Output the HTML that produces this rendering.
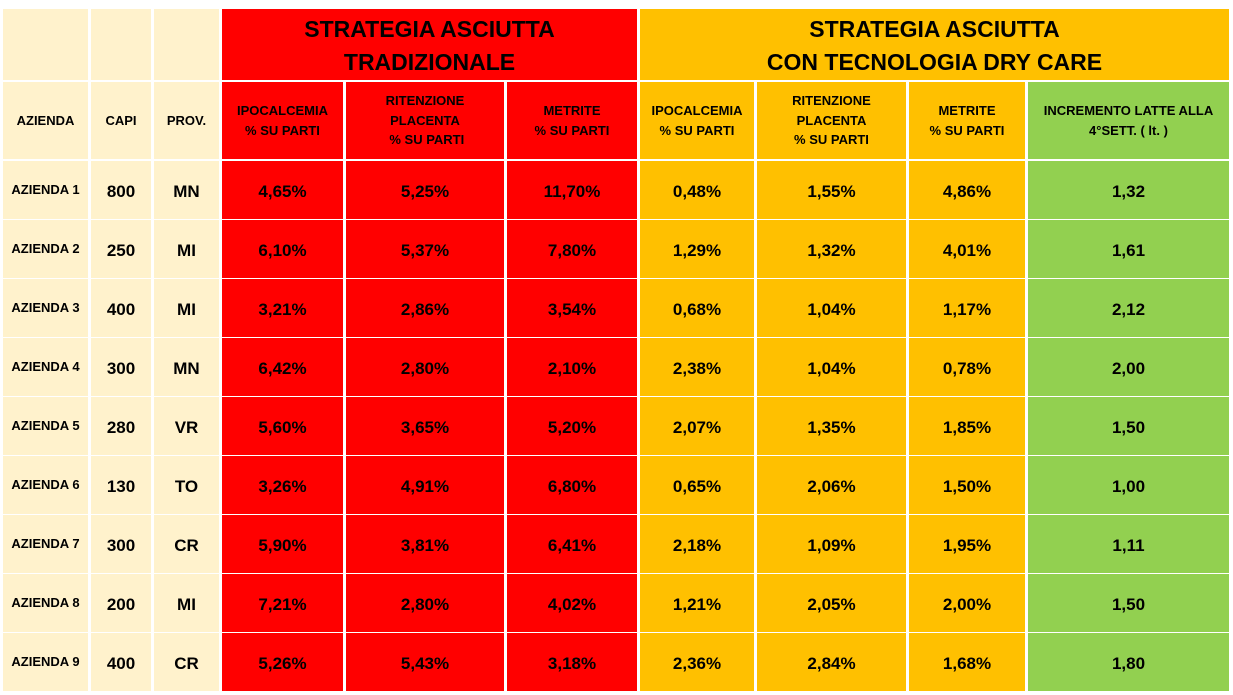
<!DOCTYPE html>
<html><head><meta charset="utf-8"><style>
body{margin:0;width:1233px;height:695px;background:#fff;position:relative;overflow:hidden;font-family:"Liberation Sans",sans-serif;font-weight:bold;color:#000}
.c{position:absolute;display:flex;align-items:center;justify-content:center;text-align:center;box-sizing:border-box;line-height:1.35}
.b{background:#fff2cc}.r{background:#ff0000}.o{background:#ffc000}.g{background:#92d050}
.h1{font-size:23px;line-height:1.42;padding-top:3px}.h2{font-size:13px;line-height:1.5}.d{font-size:17px;padding-top:4px}.a{font-size:13px;padding-top:4px}
</style></head><body>
<div id="t"></div>
<script>
const cols=[[3,88],[91,151],[154,219],[222,343],[346,504],[507,637],[640,754],[757,906],[909,1025],[1028,1229]];
const cls=['b','b','b','r','r','r','o','o','o','g'];
let h='';
function cell(x1,x2,y1,y2,c,k,t){h+=`<div class="c ${c} ${k}" style="left:${x1}px;top:${y1}px;width:${x2-x1}px;height:${y2-y1}px">${t}</div>`;}
for(let i=0;i<3;i++)cell(cols[i][0],cols[i][1],9,80,'b','','');
cell(222,637,9,80,'r','h1','STRATEGIA ASCIUTTA<br>TRADIZIONALE');
cell(640,1229,9,80,'o','h1','STRATEGIA ASCIUTTA<br>CON TECNOLOGIA DRY CARE');
const hd=['AZIENDA','CAPI','PROV.','IPOCALCEMIA<br>% SU PARTI','RITENZIONE<br>PLACENTA<br>&nbsp;% SU PARTI','METRITE<br>% SU PARTI','IPOCALCEMIA<br>% SU PARTI','RITENZIONE<br>PLACENTA<br>% SU PARTI','METRITE<br>% SU PARTI','INCREMENTO LATTE ALLA<br>4°SETT. ( lt. )'];
hd.forEach((t,i)=>cell(cols[i][0],cols[i][1],82,159,cls[i],'h2',t));
const rows=[
['800','MN','4,65%','5,25%','11,70%','0,48%','1,55%','4,86%','1,32'],
['250','MI','6,10%','5,37%','7,80%','1,29%','1,32%','4,01%','1,61'],
['400','MI','3,21%','2,86%','3,54%','0,68%','1,04%','1,17%','2,12'],
['300','MN','6,42%','2,80%','2,10%','2,38%','1,04%','0,78%','2,00'],
['280','VR','5,60%','3,65%','5,20%','2,07%','1,35%','1,85%','1,50'],
['130','TO','3,26%','4,91%','6,80%','0,65%','2,06%','1,50%','1,00'],
['300','CR','5,90%','3,81%','6,41%','2,18%','1,09%','1,95%','1,11'],
['200','MI','7,21%','2,80%','4,02%','1,21%','2,05%','2,00%','1,50'],
['400','CR','5,26%','5,43%','3,18%','2,36%','2,84%','1,68%','1,80']];
rows.forEach((r,j)=>{const y1=161+j*59,y2=y1+58;
cell(3,88,y1,y2-4,'b','a','AZIENDA '+(j+1));
h+=`<div class="c b" style="left:3px;top:${y2-4}px;width:85px;height:4px"></div>`;
r.forEach((t,i)=>cell(cols[i+1][0],cols[i+1][1],y1,y2,cls[i+1],'d',t));});
document.getElementById('t').outerHTML=h;
</script>
</body></html>
